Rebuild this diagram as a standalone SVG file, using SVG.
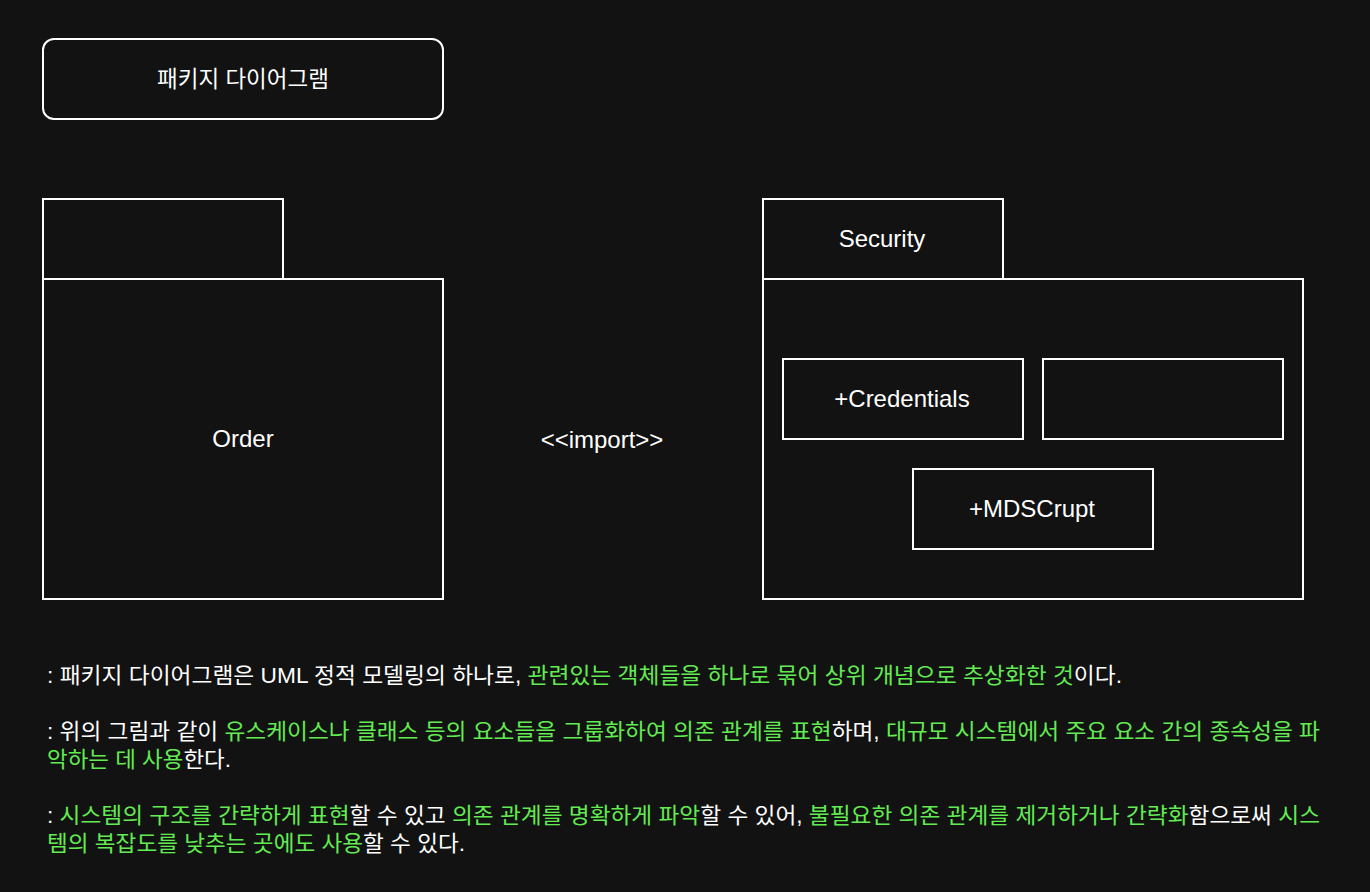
<svg xmlns="http://www.w3.org/2000/svg" width="1370" height="892" viewBox="0 0 1370 892">
<style>
.box{fill:none;stroke:#ffffff;stroke-width:2}
.lbl{font-family:"Liberation Sans","Noto Sans CJK KR",sans-serif;font-size:24px;fill:#ffffff;text-anchor:middle}
.body{font-family:"Liberation Sans","Noto Sans CJK KR",sans-serif;font-size:22px;fill:#ffffff}
.g{fill:#62ec52}
</style>
<rect width="1370" height="892" fill="#121212"/>
<g id="title">
<rect class="box" x="43" y="39" width="400" height="80" rx="11"/>
<text class="lbl" x="243" y="87" style="font-size:22.5px">패키지 다이어그램</text>
</g>
<g id="order">
<rect class="box" x="43" y="199" width="240" height="80"/>
<rect class="box" x="43" y="279" width="400" height="320"/>
<text class="lbl" x="243" y="447">Order</text>
</g>
<g id="security">
<rect class="box" x="763" y="199" width="240" height="80"/>
<text class="lbl" x="882" y="247">Security</text>
<rect class="box" x="763" y="279" width="540" height="320"/>
</g>
<g id="credentials">
<rect class="box" x="783" y="359" width="240" height="80"/>
<text class="lbl" x="902" y="407">+Credentials</text>
</g>
<g id="empty">
<rect class="box" x="1043" y="359" width="240" height="80"/>
</g>
<g id="mdscrupt">
<rect class="box" x="913" y="469" width="240" height="80"/>
<text class="lbl" x="1032" y="517">+MDSCrupt</text>
</g>
<g id="connectors">
<text class="lbl" x="602" y="448">&lt;&lt;import&gt;&gt;</text>
</g>
<g id="notes">
<text class="body" x="47" y="683" textLength="1075" lengthAdjust="spacingAndGlyphs">: 패키지 다이어그램은 UML 정적 모델링의 하나로, <tspan class="g">관련있는 객체들을 하나로 묶어 상위 개념으로 추상화한 것</tspan>이다.</text>
<text class="body" x="47" y="739" textLength="1273" lengthAdjust="spacingAndGlyphs">: 위의 그림과 같이 <tspan class="g">유스케이스나 클래스 등의 요소들을 그룹화하여 의존 관계를 표현</tspan>하며, <tspan class="g">대규모 시스템에서 주요 요소 간의 종속성을 파</tspan></text>
<text class="body" x="47" y="767" textLength="184" lengthAdjust="spacingAndGlyphs"><tspan class="g">악하는 데 사용</tspan>한다.</text>
<text class="body" x="47" y="823" textLength="1273" lengthAdjust="spacingAndGlyphs">: <tspan class="g">시스템의 구조를 간략하게 표현</tspan>할 수 있고 <tspan class="g">의존 관계를 명확하게 파악</tspan>할 수 있어, <tspan class="g">불필요한 의존 관계를 제거하거나 간략화</tspan>함으로써 <tspan class="g">시스</tspan></text>
<text class="body" x="47" y="851" textLength="418" lengthAdjust="spacingAndGlyphs"><tspan class="g">템의 복잡도를 낮추는 곳에도 사용</tspan>할 수 있다.</text>
</g>
</svg>
